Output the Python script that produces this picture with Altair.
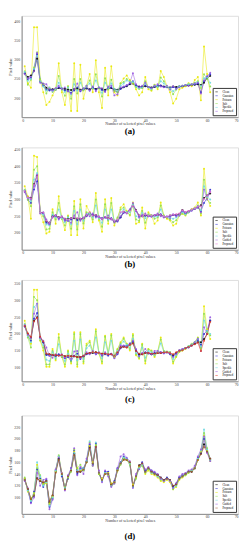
import altair as alt
import pandas as pd

x_vals = list(range(1, 62))

# ---------------- panel (a) ----------------
a_names = ["Clean", "Gaussian", "Poisson", "Salt", "Speckle", "Proposed"]
a_black = [265,255,259,271,303,243,237,227,223,223,224,226,225,224,222,221,224,225,222,224,225,223,226,224,227,224,222,225,226,223,222,225,228,231,236,238,232,230,229,231,229,228,229,231,232,230,229,228,230,229,230,230,232,233,234,235,236,234,240,252,258]
a_blue = [265,250,253,275,315,245,232,222,220,221,222,228,223,220,218,214,220,228,218,222,226,220,228,222,226,221,218,226,228,219,216,224,229,232,238,244,234,229,228,233,228,226,229,232,233,229,228,226,229,226,230,231,233,234,235,236,238,215,244,255,262]
a_yellow = [283,239,227,385,385,247,215,182,190,207,223,291,215,182,231,166,291,166,287,198,231,263,215,299,215,174,279,207,283,215,207,239,251,259,247,239,223,207,215,255,223,219,235,223,271,255,231,215,186,198,223,227,231,239,231,247,255,194,335,263,215]
a_green = [270,235,248,280,320,250,236,212,228,216,222,258,222,206,230,198,250,212,250,220,232,246,224,262,226,204,252,222,248,220,216,238,242,250,244,240,228,224,226,244,228,222,234,228,254,244,230,224,210,222,230,232,234,236,236,240,244,226,262,250,230]
a_cyan = [268,245,250,276,310,244,230,220,226,218,224,240,226,216,228,210,236,220,240,224,230,238,226,246,228,214,240,226,238,224,220,232,238,246,242,242,230,226,228,238,228,224,232,230,244,238,230,226,218,224,230,232,234,236,236,238,242,232,252,254,240]
a_purple = [262,252,256,270,318,240,238,236,224,220,226,232,224,228,218,212,224,238,220,226,232,220,230,218,228,226,216,230,232,207,210,228,230,234,240,265,236,228,232,240,229,226,232,236,230,228,232,222,231,224,228,232,234,232,236,238,240,212,246,258,266]
a_ticks = [200, 250, 300, 350, 400]

# ---------------- panel (b) ----------------
b_names = ["Clean", "Gaussian", "Poisson", "Salt", "Speckle", "Guided", "Proposed"]
b_black = [327,307,305,346,372,262,260,234,230,249,252,247,247,242,242,244,244,242,242,244,252,260,252,254,247,242,247,244,242,234,237,247,263,260,269,281,269,252,250,252,252,252,252,254,254,250,247,252,254,254,256,269,260,264,269,273,277,283,305,312,318]
b_blue = [325,300,290,330,355,262,258,230,226,250,250,244,246,238,236,240,246,238,240,244,250,258,254,250,246,244,246,240,244,236,234,246,260,262,270,286,266,250,250,252,250,250,252,252,256,248,246,250,254,252,254,264,258,262,268,272,276,265,290,305,330]
b_yellow = [340,310,242,432,428,262,232,198,203,271,227,310,242,208,252,193,296,193,301,213,281,262,232,320,237,203,301,227,305,222,242,276,286,266,252,291,227,232,276,213,262,252,227,237,291,252,242,237,222,227,252,257,252,262,271,276,291,252,393,305,281]
b_green = [330,300,280,390,400,260,250,210,212,262,240,290,242,222,250,212,280,210,286,228,262,256,240,300,242,218,286,236,290,230,246,270,276,262,254,284,240,236,266,230,256,252,242,246,282,252,246,240,232,238,252,258,254,262,270,274,282,258,360,300,290]
b_cyan = [328,305,295,360,380,262,255,225,222,255,246,270,244,232,246,226,266,226,270,236,256,258,246,282,244,230,270,240,270,236,240,260,270,262,262,284,250,246,260,244,252,252,248,250,270,250,248,246,242,246,252,262,256,262,268,274,280,268,340,308,300]
b_purple = [322,305,300,340,375,258,262,240,226,246,254,240,250,236,238,230,252,262,236,246,256,250,258,246,250,240,248,252,240,232,236,250,262,258,268,290,266,246,254,258,250,248,254,258,250,246,250,244,256,250,252,266,262,264,266,272,280,262,330,300,325]
b_pink = [326,306,304,345,370,262,260,236,230,248,252,246,248,242,240,244,246,244,242,244,252,262,252,254,248,242,248,244,242,236,240,262,264,260,268,280,268,252,250,254,252,252,252,254,254,250,248,252,254,256,258,268,262,266,270,274,278,280,302,312,322]
b_ticks = [200, 250, 300, 350, 400, 450]

# ---------------- panel (c) ----------------
c_names = ["Clean", "Gaussian", "Poisson", "Salt", "Speckle", "Guided", "Proposed"]
c_black = [224,200,190,239,250,190,176,140,140,137,137,137,137,134,134,134,134,132,132,134,142,144,144,146,144,142,142,140,140,134,144,161,163,161,169,173,151,140,140,144,144,140,142,144,144,146,146,144,137,144,151,153,159,161,166,171,176,176,185,200,239]
c_blue = [222,196,180,245,262,190,175,138,136,138,134,140,132,128,132,120,136,142,126,134,140,142,146,140,144,136,140,136,142,130,140,158,164,166,172,178,152,136,142,146,142,140,144,146,146,144,146,140,134,142,150,154,158,162,168,174,182,168,200,210,240]
c_yellow = [239,195,171,331,331,180,151,103,103,156,122,200,132,103,151,113,205,103,205,113,171,180,147,214,142,113,195,142,200,132,156,176,190,171,151,200,137,127,171,113,156,151,132,147,190,147,147,147,113,132,147,151,156,163,171,176,190,151,282,214,185]
c_green = [230,190,160,310,300,182,160,110,110,150,126,190,134,110,148,118,200,110,200,118,166,176,148,208,144,118,192,142,196,136,154,172,186,170,156,196,140,130,168,120,154,150,136,148,184,150,148,146,118,134,148,152,158,164,170,176,188,158,260,206,196]
c_cyan = [228,194,176,280,290,186,168,124,120,146,130,170,136,120,142,124,180,122,184,126,158,166,146,190,144,128,176,142,180,136,150,168,178,168,160,186,144,134,160,130,150,146,138,146,172,148,146,146,126,138,150,154,158,164,170,176,186,164,240,210,200]
c_purple = [226,198,188,260,290,188,180,160,136,130,140,136,140,130,134,126,148,150,128,136,146,140,150,140,146,138,146,140,140,128,142,166,166,162,170,180,156,134,144,156,144,140,150,150,146,142,146,142,132,140,152,156,158,160,166,176,186,150,220,200,250]
c_red = [224,202,192,238,248,192,178,142,140,138,138,136,138,134,136,134,134,132,132,136,142,144,146,146,144,142,142,140,140,136,146,160,162,160,168,172,150,142,140,144,144,142,142,144,144,146,146,144,140,146,150,152,158,162,166,170,174,150,180,200,236]
c_ticks = [100, 150, 200, 250, 300, 350]

# ---------------- panel (d) ----------------
d_names = ["Clean", "Gaussian", "Poisson", "Salt", "Speckle", "Guided", "Proposed"]
d_black = [130,114,97,103,133,128,125,128,92,103,144,166,139,114,136,147,175,144,144,147,161,186,158,187,141,130,141,141,122,126,147,158,166,164,159,119,136,155,158,144,150,144,141,139,133,130,133,130,119,122,133,136,140,144,144,150,165,175,191,180,166]
d_blue = [132,112,92,110,148,132,118,130,84,98,146,170,136,116,132,150,180,140,150,150,162,190,156,192,142,128,144,144,120,128,150,160,170,166,158,118,136,150,160,146,150,146,142,138,134,130,134,130,118,124,134,138,140,144,146,150,168,176,200,178,164]
d_yellow = [132,110,98,106,156,130,124,124,90,102,144,170,142,114,134,148,178,150,146,148,160,188,160,188,140,132,140,142,124,126,146,158,166,164,158,122,134,152,156,140,146,140,138,134,128,126,130,126,114,118,130,134,138,142,146,150,164,178,206,180,162]
d_green = [134,112,95,108,150,138,122,126,88,100,146,172,140,118,134,144,182,150,156,146,160,194,154,190,140,130,142,138,120,124,146,156,168,164,156,120,132,150,154,142,148,142,140,136,130,128,132,128,114,120,132,136,138,142,146,150,166,180,210,184,164]
d_cyan = [130,112,94,104,160,136,120,126,86,100,146,170,138,116,136,148,176,146,148,150,162,196,158,194,142,128,142,140,120,126,148,158,168,166,158,118,136,150,156,144,150,142,140,136,132,128,132,128,116,120,132,136,140,144,146,150,166,180,216,182,164]
d_purple = [128,116,90,100,142,120,130,132,80,96,148,168,142,112,138,150,184,138,152,140,166,192,154,186,146,126,146,136,118,124,150,170,174,168,162,116,140,148,158,148,152,146,144,140,132,128,132,128,116,124,136,140,142,146,148,154,170,182,204,176,162]
d_brown = [130,115,98,104,132,128,126,128,94,104,142,164,140,114,136,146,172,144,144,148,160,184,158,186,142,130,140,140,122,126,146,158,164,164,160,120,136,154,158,144,150,144,140,138,134,130,132,130,120,122,132,136,140,144,144,150,164,174,186,178,166]
d_ticks = [100, 120, 140, 160, 180, 200, 220]

x_ticks = [0, 10, 20, 30, 40, 50, 60, 70]

FONT = "Liberation Serif"


def panel(names, series, colors, ticks, ydom, height, label, toff):
    rows = []
    for nm, vals in zip(names, series):
        for xv, yv in zip(x_vals, vals):
            rows.append({"x": xv, "v": yv, "s": nm})
    df = pd.DataFrame(rows)
    color = alt.Color(
        "s:N",
        sort=names,
        scale=alt.Scale(domain=names, range=colors),
        legend=alt.Legend(
            title=None, orient="bottom-right", offset=2,
            labelFontSize=3, labelFont=FONT, symbolSize=6, symbolStrokeWidth=0.6,
            rowPadding=0, labelLimit=40, padding=2,
            strokeColor="#333333", fillColor="white",
            symbolType="stroke",
        ),
    )
    xenc = alt.X(
        "x:Q",
        scale=alt.Scale(domain=[0, 70], nice=False),
        axis=alt.Axis(values=x_ticks, title="Number of selected pixel values",
                      labelFontSize=4, titleFontSize=4, labelFont=FONT, titleFont=FONT,
                      titleFontWeight="normal", grid=False, ticks=False, labelPadding=1,
                      titlePadding=0, domainColor="#888", labelColor="#444",
                      titleColor="#333"),
    )
    yenc = alt.Y(
        "v:Q",
        scale=alt.Scale(domain=ydom, nice=False, zero=False),
        axis=alt.Axis(values=ticks, title="Pixel value",
                      labelFontSize=4, titleFontSize=4, labelFont=FONT, titleFont=FONT,
                      titleFontWeight="normal", grid=False, ticks=False, labelPadding=2,
                      titlePadding=1, domainColor="#888", labelColor="#444",
                      titleColor="#333"),
    )
    base = alt.Chart(df).encode(x=xenc, y=yenc, color=color, detail="s:N",
                                order=alt.Order("x:Q"))
    lines = base.mark_line(strokeWidth=0.6, opacity=0.9)
    pts = base.mark_point(size=4, filled=True, opacity=0.9)
    return alt.layer(lines, pts).properties(
        width=222, height=height,
        title=alt.TitleParams(label, orient="bottom", fontSize=9, font=FONT,
                              fontWeight="bold", offset=toff, anchor="middle"),
    )


cols6 = ["#000000", "#2a2ad0", "#e8e800", "#8ee04a", "#6fd8e0", "#9a5ae0"]
cols7b = ["#000000", "#2a2ad0", "#e8e800", "#8ee04a", "#6fd8e0", "#9a5ae0", "#e070d0"]
cols7c = ["#000000", "#2a2ad0", "#e8e800", "#8ee04a", "#6fd8e0", "#9a5ae0", "#e03a2a"]
cols7d = ["#000000", "#2a2ad0", "#e8e800", "#8ee04a", "#6fd8e0", "#9a5ae0", "#a0522d"]

pa = panel(a_names, [a_black, a_blue, a_yellow, a_green, a_cyan, a_purple], cols6,
           a_ticks, [150, 415], 104, "(a)", 1.5)
pb = panel(b_names, [b_black, b_blue, b_yellow, b_green, b_cyan, b_purple, b_pink], cols7b,
           b_ticks, [149, 457], 105, "(b)", 1.5)
pc = panel(c_names, [c_black, c_blue, c_yellow, c_green, c_cyan, c_purple, c_red], cols7c,
           c_ticks, [60, 360], 104, "(c)", 5)
pd_ = panel(d_names, [d_black, d_blue, d_yellow, d_green, d_cyan, d_purple, d_brown], cols7d,
            d_ticks, [72, 240], 101, "(d)", 10)

chart = alt.vconcat(pa, pb, pc, pd_, spacing=10).resolve_scale(color="independent").configure_view(
    stroke="#888888", strokeWidth=0.6
).configure(padding=0, background="white")

chart.save("out.html", embed_options={"renderer": "svg", "actions": False})
